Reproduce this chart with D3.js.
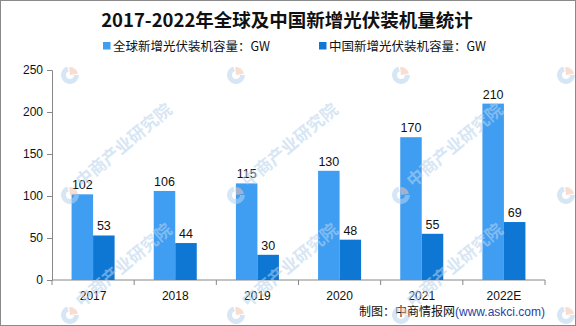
<!DOCTYPE html>
<html>
<head>
<meta charset="utf-8">
<script src="https://cdn.jsdelivr.net/npm/d3@7/dist/d3.min.js"></script>
<style>
  html, body { margin: 0; padding: 0; background: #fff; }
  svg { display: block; }
</style>
</head>
<body>
<script>
// Annual new PV installations, GW
const years = ["2017", "2018", "2019", "2020", "2021", "2022E"];
const globalGW = [102, 106, 115, 130, 170, 210];
const chinaGW = [53, 44, 30, 48, 55, 69];
const seriesNames = ["全球新增光伏装机容量：GW", "中国新增光伏装机容量：GW"];
const seriesColors = ["#409ef2", "#0d77d3"];
const yTicks = [0, 50, 100, 150, 200, 250];
const titleText = "2017-2022年全球及中国新增光伏装机量统计";
const sourceText = "制图：中商情报网";
const sourceUrl = "(www.askci.com)";
const watermarkText = "中商产业研究院";

const W = 576, H = 326;
const margin = { left: 52, right: 31, top: 70, bottom: 46 };
const cjk = "'Noto Sans CJK SC', 'Noto Sans', sans-serif";
const latin = "'Liberation Sans', Arial, sans-serif";

const svg = d3.select("body").append("svg")
  .attr("width", W).attr("height", H);

svg.append("rect").attr("x", 0).attr("y", 0).attr("width", W).attr("height", H).attr("fill", "#fff");

const x = d3.scaleBand().domain(years)
  .range([margin.left, W - margin.right]).padding(0);
const xs = d3.scaleBand().domain([0, 1])
  .range([0, x.bandwidth()]).paddingOuter(0.91).paddingInner(0);
const y = d3.scaleLinear().domain([0, 250]).range([H - margin.bottom, margin.top]);

// Title
svg.append("text")
  .attr("x", 287).attr("y", 27)
  .attr("text-anchor", "middle")
  .attr("font-family", cjk).attr("font-weight", "bold").attr("font-size", 18.5)
  .attr("fill", "#111")
  .text(titleText);

// Legend
const legendX = [103, 319];
seriesNames.forEach((name, i) => {
  const g = svg.append("g").attr("transform", `translate(${legendX[i]},0)`);
  g.append("rect").attr("x", 0).attr("y", 42).attr("width", 7.5).attr("height", 7.5).attr("fill", seriesColors[i]);
  g.append("text").attr("x", 10).attr("y", 50.5)
    .attr("font-family", cjk).attr("font-size", 12.5).attr("fill", "#111")
    .text(name);
});

// Y axis
const yAxis = svg.append("g")
  .attr("transform", `translate(${margin.left},0)`)
  .call(d3.axisLeft(y).tickValues(yTicks).tickSize(5).tickPadding(4));
yAxis.select(".domain").attr("stroke", "#888");
yAxis.selectAll(".tick line").attr("stroke", "#888");
yAxis.selectAll(".tick text")
  .attr("font-family", latin).attr("font-size", 12).attr("fill", "#111");

// X axis with ticks at category boundaries
const xAxisG = svg.append("g").attr("transform", `translate(0,${y(0)})`);
xAxisG.append("line")
  .attr("x1", x.range()[0]).attr("x2", x.range()[1])
  .attr("stroke", "#888");
const boundaries = years.map(d => x(d)).concat([x.range()[1]]);
xAxisG.selectAll("line.tk").data(boundaries).join("line")
  .attr("class", "tk")
  .attr("x1", d => d).attr("x2", d => d)
  .attr("y1", 0).attr("y2", 5)
  .attr("stroke", "#888");
xAxisG.selectAll("text").data(years).join("text")
  .attr("x", d => x(d) + x.bandwidth() / 2)
  .attr("y", 20)
  .attr("text-anchor", "middle")
  .attr("font-family", latin).attr("font-size", 12).attr("fill", "#111")
  .text(d => d);

// Bars and value labels
const series = [globalGW, chinaGW];
series.forEach((vals, si) => {
  const g = svg.append("g");
  g.selectAll("rect").data(vals).join("rect")
    .attr("x", (d, i) => x(years[i]) + xs(si))
    .attr("y", d => y(d))
    .attr("width", xs.bandwidth())
    .attr("height", d => y(0) - y(d))
    .attr("fill", seriesColors[si]);
  g.selectAll("text").data(vals).join("text")
    .attr("x", (d, i) => x(years[i]) + xs(si) + xs.bandwidth() / 2)
    .attr("y", d => y(d) - 5)
    .attr("text-anchor", "middle")
    .attr("font-family", latin).attr("font-size", 12.5).attr("fill", "#111")
    .text(d => d);
});

// Source line
const src = svg.append("text")
  .attr("x", 545).attr("y", 316)
  .attr("text-anchor", "end")
  .attr("font-family", cjk).attr("font-size", 12);
src.append("tspan").attr("fill", "#111").text(sourceText);
src.append("tspan").attr("fill", "#1f3fa8").attr("font-family", latin).text(sourceUrl);

// Watermark pattern: logo on a grid, slanted name beside the inner ones
const wm = svg.append("g").attr("pointer-events", "none");
const wmCols = [70, 236, 401, 566];
const wmRows = [75, 195, 315];
wmRows.forEach((ry, ri) => {
  wmCols.forEach((cx, ci) => {
    const g = wm.append("g").attr("transform", `translate(${cx},${ry})`).attr("opacity", 0.55);
    g.append("path")
      .attr("d", d3.arc().innerRadius(4).outerRadius(9)({ startAngle: Math.PI * 0.5, endAngle: Math.PI * 1.9 }))
      .attr("fill", "#b7d3ee");
    g.append("path")
      .attr("d", d3.arc().innerRadius(0).outerRadius(8)({ startAngle: -0.1, endAngle: Math.PI * 0.45 }))
      .attr("fill", "#f5c2ad");
    if (ri > 0 && ci < wmCols.length - 1) {
      g.append("text")
        .attr("transform", "translate(12,-7) rotate(-40)")
        .attr("font-family", cjk).attr("font-weight", "bold").attr("font-size", 17)
        .attr("fill", "#b7d3ee")
        .text(watermarkText);
    }
  });
});

// Frame
svg.append("rect")
  .attr("x", 0.5).attr("y", 0.5).attr("width", W - 1).attr("height", H - 1)
  .attr("fill", "none").attr("stroke", "#8a8a8a");
</script>
</body>
</html>
